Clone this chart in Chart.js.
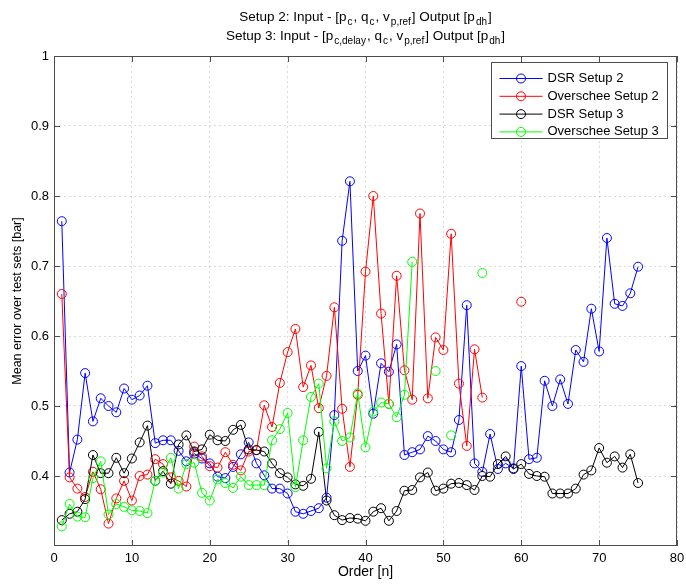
<!DOCTYPE html>
<html>
<head>
<meta charset="utf-8">
<title>Mean error over test sets</title>
<script src="https://cdn.jsdelivr.net/npm/chart.js@4.4.1/dist/chart.umd.min.js"></script>
<style>
  body { margin: 0; background: #fff; }
</style>
</head>
<body>
<canvas id="chart" width="686" height="585"></canvas>
<script>
const orders = [1, 2, 3, 4, 5, 6, 7, 8, 9, 10, 11, 12, 13, 14, 15, 16, 17, 18, 19, 20,
  21, 22, 23, 24, 25, 26, 27, 28, 29, 30, 31, 32, 33, 34, 35, 36, 37, 38, 39, 40,
  41, 42, 43, 44, 45, 46, 47, 48, 49, 50, 51, 52, 53, 54, 55, 56, 57, 58, 59, 60,
  61, 62, 63, 64, 65, 66, 67, 68, 69, 70, 71, 72, 73, 74, 75];

const dsrSetup2 = [0.764, 0.405, 0.452, 0.547, 0.478, 0.511, 0.500, 0.491, 0.525, 0.509,
  0.515, 0.529, 0.447, 0.451, 0.451, 0.436, 0.421, 0.432, 0.425, 0.418,
  0.399, 0.397, 0.413, 0.431, 0.448, 0.418, 0.401, 0.382, 0.382, 0.375,
  0.349, 0.346, 0.350, 0.354, 0.369, 0.487, 0.736, 0.821, 0.550, 0.572,
  0.489, 0.561, 0.549, 0.588, 0.430, 0.434, 0.438, 0.457, 0.450, 0.438,
  0.434, 0.480, 0.644, 0.418, 0.406, 0.460, 0.410, 0.418, 0.411, 0.557,
  0.424, 0.426, 0.536, 0.500, 0.538, 0.503, 0.580, 0.563, 0.639, 0.578,
  0.740, 0.646, 0.643, 0.661, 0.699];

const overscheeSetup2 = [0.660, 0.398, 0.382, 0.370, 0.406, 0.381, 0.332, 0.368, 0.393, 0.365,
  0.400, 0.402, 0.424, 0.417, 0.398, 0.393, 0.385, 0.442, 0.428, 0.414,
  0.412, 0.434, 0.416, 0.408, 0.435, 0.437, 0.501, 0.470, 0.533, 0.577,
  0.610, 0.527, 0.558, 0.497, 0.543, 0.641, 0.496, 0.413, 0.516, 0.692,
  0.800, 0.632, 0.503, 0.686, 0.551, 0.509, 0.775, 0.511, 0.598, 0.580,
  0.746, 0.532, 0.443, 0.581, 0.512, null, null, null, null, 0.649,
  null, null, null, null, null, null, null, null, null, null,
  null, null, null, null, null];

const dsrSetup3 = [0.337, 0.346, 0.349, 0.367, 0.430, 0.404, 0.404, 0.426, 0.404, 0.425,
  0.448, 0.472, 0.393, 0.407, 0.389, 0.445, 0.458, 0.435, 0.438, 0.459,
  0.451, 0.450, 0.466, 0.473, 0.438, 0.437, 0.435, 0.418, 0.404, 0.398,
  0.388, 0.386, 0.396, 0.463, 0.365, 0.344, 0.337, 0.340, 0.339, 0.336,
  0.349, 0.354, 0.336, 0.350, 0.379, 0.380, 0.398, 0.405, 0.379, 0.382,
  0.389, 0.390, 0.387, 0.380, 0.400, 0.399, 0.417, 0.428, 0.410, 0.417,
  0.403, 0.400, 0.399, 0.375, 0.375, 0.375, 0.382, 0.402, 0.408, 0.440,
  0.419, 0.428, 0.412, 0.431, 0.390];

const overscheeSetup3 = [0.328, 0.360, 0.342, 0.341, 0.397, 0.421, 0.345, 0.360, 0.356, 0.351,
  0.350, 0.347, 0.393, 0.405, 0.426, 0.382, 0.417, 0.419, 0.376, 0.365,
  0.395, 0.390, 0.383, 0.399, 0.387, 0.387, 0.387, 0.451, 0.467, 0.490,
  0.384, 0.451, 0.513, 0.532, 0.411, 0.478, 0.450, 0.455, 0.518, 0.441,
  0.492, 0.505, 0.503, 0.484, 0.516, 0.706, null, null, 0.550, null,
  0.458, null, null, null, 0.690, null, null, null, null, null,
  null, null, null, null, null, null, null, null, null, null,
  null, null, null, null, null];

const xTicks = [0, 10, 20, 30, 40, 50, 60, 70, 80];
const yTicks = [0.4, 0.5, 0.6, 0.7, 0.8, 0.9, 1];

// title pieces: [text, isSubscript]
const titleLine1 = [["Setup 2: Input - [p", false], ["c", true], [", q", false], ["c", true],
  [", v", false], ["p,ref", true], ["] Output [p", false], ["dh", true], ["]", false]];
const titleLine2 = [["Setup 3: Input - [p", false], ["c,delay", true], [", q", false], ["c", true],
  [", v", false], ["p,ref", true], ["] Output [p", false], ["dh", true], ["]", false]];

const FONT = "'Liberation Sans', Arial, sans-serif";
const AXIS_COLOR = "#4d4d4d";

function toPoints(values) {
  return values.map((v, i) => ({ x: orders[i], y: v }));
}

function series(label, values, color, order) {
  return {
    label: label,
    data: toPoints(values),
    borderColor: color,
    borderWidth: 1,
    pointStyle: "circle",
    pointRadius: 4.5,
    pointHoverRadius: 4.5,
    pointBorderWidth: 1,
    pointBorderColor: color,
    pointBackgroundColor: "rgba(0,0,0,0)",
    spanGaps: false,
    order: order,
  };
}

const decorations = {
  id: "decorations",
  afterDraw(chart) {
    const ctx = chart.ctx;
    const area = chart.chartArea;
    const xs = chart.scales.x;
    const ys = chart.scales.y;
    ctx.save();

    // box and inward ticks
    ctx.strokeStyle = AXIS_COLOR;
    ctx.lineWidth = 1;
    ctx.strokeRect(area.left + 0.5, area.top + 0.5, area.right - area.left - 1, area.bottom - area.top - 1);
    ctx.beginPath();
    xTicks.forEach((t) => {
      const px = Math.round(xs.getPixelForValue(t)) + 0.5;
      ctx.moveTo(px, area.bottom);
      ctx.lineTo(px, area.bottom - 6);
      ctx.moveTo(px, area.top);
      ctx.lineTo(px, area.top + 6);
    });
    yTicks.forEach((t) => {
      const py = Math.round(ys.getPixelForValue(t)) + 0.5;
      ctx.moveTo(area.left, py);
      ctx.lineTo(area.left + 6, py);
      ctx.moveTo(area.right, py);
      ctx.lineTo(area.right - 6, py);
    });
    ctx.stroke();

    // legend
    const bw = 176, bh = 76;
    const bx = area.right - 10 - bw + 0.5;
    const by = area.top + 6 + 0.5;
    ctx.fillStyle = "#fff";
    ctx.fillRect(bx, by, bw, bh);
    ctx.strokeStyle = AXIS_COLOR;
    ctx.strokeRect(bx, by, bw, bh);
    ctx.font = "13px " + FONT;
    ctx.textBaseline = "middle";
    ctx.textAlign = "left";
    chart.data.datasets.forEach((ds, i) => {
      const y = by + 16 + i * 17.8;
      ctx.strokeStyle = ds.borderColor;
      ctx.beginPath();
      ctx.moveTo(bx + 8, y);
      ctx.lineTo(bx + 51, y);
      ctx.stroke();
      ctx.beginPath();
      ctx.arc(bx + 29.5, y, 4.5, 0, Math.PI * 2);
      ctx.stroke();
      ctx.fillStyle = "#000";
      ctx.fillText(ds.label, bx + 56, y);
    });

    // two-line title with subscripts
    const mid = (area.left + area.right) / 2;
    ctx.fillStyle = "#000";
    ctx.textBaseline = "alphabetic";
    [[titleLine1, 21], [titleLine2, 39.5]].forEach(([parts, y]) => {
      let w = 0;
      parts.forEach(([t, sub]) => {
        ctx.font = (sub ? "10px " : "13.5px ") + FONT;
        w += ctx.measureText(t).width + (sub ? 2 : 0);
      });
      let x = mid - w / 2;
      parts.forEach(([t, sub]) => {
        ctx.font = (sub ? "10px " : "13.5px ") + FONT;
        if (sub) x += 1;
        ctx.fillText(t, x, sub ? y + 4 : y);
        x += ctx.measureText(t).width + (sub ? 1 : 0);
      });
    });
    ctx.restore();
  },
};

new Chart(document.getElementById("chart"), {
  type: "line",
  data: {
    datasets: [
      series("DSR Setup 2", dsrSetup2, "rgb(0,0,255)", 3),
      series("Overschee Setup 2", overscheeSetup2, "rgb(255,0,0)", 2),
      series("DSR Setup 3", dsrSetup3, "rgb(0,0,0)", 1),
      series("Overschee Setup 3", overscheeSetup3, "rgb(0,255,0)", 0),
    ],
  },
  options: {
    responsive: false,
    animation: false,
    devicePixelRatio: 1,
    layout: { padding: { top: 56, right: 9, left: 0, bottom: 0 } },
    plugins: {
      legend: { display: false },
      tooltip: { enabled: false },
    },
    scales: {
      x: {
        type: "linear",
        min: 0,
        max: 80,
        afterFit: (s) => { s.height = 39; s.paddingLeft = 0; s.paddingRight = 0; },
        afterBuildTicks: (s) => { s.ticks = xTicks.map((v) => ({ value: v })); },
        grid: { color: "rgba(0,0,0,0.14)", drawTicks: false },
        border: { display: false, dash: [2, 3] },
        ticks: { color: "#000", padding: 5, font: { family: FONT, size: 13 }, maxRotation: 0 },
        title: { display: true, text: "Order [n]", color: "#000", padding: { top: 0, bottom: 4 }, font: { family: FONT, size: 14 } },
      },
      y: {
        type: "linear",
        min: 0.3,
        max: 1,
        afterFit: (s) => { s.width = 54; s.paddingTop = 0; s.paddingBottom = 0; },
        afterBuildTicks: (s) => { s.ticks = yTicks.map((v) => ({ value: v })); },
        grid: { color: "rgba(0,0,0,0.14)", drawTicks: false },
        border: { display: false, dash: [2, 3] },
        ticks: { color: "#000", padding: 5, font: { family: FONT, size: 13 }, callback: (v) => String(v) },
        title: { display: true, text: "Mean error over test sets [bar]", color: "#000", padding: { top: 10, bottom: 0 }, font: { family: FONT, size: 12.5 } },
      },
    },
  },
  plugins: [decorations],
});
</script>
</body>
</html>
